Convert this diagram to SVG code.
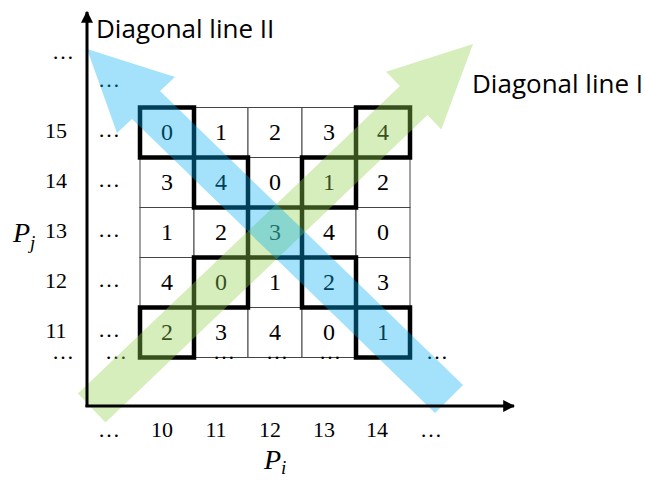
<svg xmlns="http://www.w3.org/2000/svg" width="645" height="480" viewBox="0 0 645 480">
<style>
.cell{fill:#fff;stroke:#444;stroke-width:1}
.num{font-family:"Liberation Serif",serif;font-size:22px;fill:#000;text-anchor:middle}
.cn{font-family:"Liberation Serif",serif;font-size:24px;fill:#000;text-anchor:middle}
.hl{fill:none;stroke:#000;stroke-width:4.5}
.lab{font-family:"Open Sans","Noto Sans",sans-serif;font-size:26px;fill:#000}
.ax{stroke:#000;stroke-width:3;fill:none}
.it{font-family:"Liberation Serif",serif;font-style:italic;fill:#000}
</style>
<defs>
<marker id="ah" viewBox="0 0 10 10" refX="9" refY="5" markerWidth="4" markerHeight="4" orient="auto" markerUnits="strokeWidth">
<path d="M0,0 L10,5 L0,10 z" fill="#000"/>
</marker>
</defs>
<rect width="645" height="480" fill="#fff"/>
<g id="grid">
<g id="row15">
<rect class="cell" x="140" y="107.5" width="54" height="50"/><rect class="cell" x="194" y="107.5" width="54" height="50"/><rect class="cell" x="248" y="107.5" width="54" height="50"/><rect class="cell" x="302" y="107.5" width="54" height="50"/><rect class="cell" x="356" y="107.5" width="54" height="50"/>
<text class="cn" x="167" y="140">0</text><text class="cn" x="221" y="140">1</text><text class="cn" x="275" y="140">2</text><text class="cn" x="329" y="140">3</text><text class="cn" x="383" y="140">4</text>
</g>
<g id="row14">
<rect class="cell" x="140" y="157.5" width="54" height="50"/><rect class="cell" x="194" y="157.5" width="54" height="50"/><rect class="cell" x="248" y="157.5" width="54" height="50"/><rect class="cell" x="302" y="157.5" width="54" height="50"/><rect class="cell" x="356" y="157.5" width="54" height="50"/>
<text class="cn" x="167" y="190">3</text><text class="cn" x="221" y="190">4</text><text class="cn" x="275" y="190">0</text><text class="cn" x="329" y="190">1</text><text class="cn" x="383" y="190">2</text>
</g>
<g id="row13">
<rect class="cell" x="140" y="207.5" width="54" height="50"/><rect class="cell" x="194" y="207.5" width="54" height="50"/><rect class="cell" x="248" y="207.5" width="54" height="50"/><rect class="cell" x="302" y="207.5" width="54" height="50"/><rect class="cell" x="356" y="207.5" width="54" height="50"/>
<text class="cn" x="167" y="240">1</text><text class="cn" x="221" y="240">2</text><text class="cn" x="275" y="240">3</text><text class="cn" x="329" y="240">4</text><text class="cn" x="383" y="240">0</text>
</g>
<g id="row12">
<rect class="cell" x="140" y="257.5" width="54" height="50"/><rect class="cell" x="194" y="257.5" width="54" height="50"/><rect class="cell" x="248" y="257.5" width="54" height="50"/><rect class="cell" x="302" y="257.5" width="54" height="50"/><rect class="cell" x="356" y="257.5" width="54" height="50"/>
<text class="cn" x="167" y="290">4</text><text class="cn" x="221" y="290">0</text><text class="cn" x="275" y="290">1</text><text class="cn" x="329" y="290">2</text><text class="cn" x="383" y="290">3</text>
</g>
<g id="row11">
<rect class="cell" x="140" y="307.5" width="54" height="50"/><rect class="cell" x="194" y="307.5" width="54" height="50"/><rect class="cell" x="248" y="307.5" width="54" height="50"/><rect class="cell" x="302" y="307.5" width="54" height="50"/><rect class="cell" x="356" y="307.5" width="54" height="50"/>
<text class="cn" x="167" y="340">2</text><text class="cn" x="221" y="340">3</text><text class="cn" x="275" y="340">4</text><text class="cn" x="329" y="340">0</text><text class="cn" x="383" y="340">1</text>
</g>
<g id="highlights">
<rect class="hl" x="140" y="107.5" width="54" height="50"/>
<rect class="hl" x="194" y="157.5" width="54" height="50"/>
<rect class="hl" x="248" y="207.5" width="54" height="50"/>
<rect class="hl" x="302" y="257.5" width="54" height="50"/>
<rect class="hl" x="356" y="307.5" width="54" height="50"/>
<rect class="hl" x="140" y="307.5" width="54" height="50"/>
<rect class="hl" x="194" y="257.5" width="54" height="50"/>
<rect class="hl" x="302" y="157.5" width="54" height="50"/>
<rect class="hl" x="356" y="107.5" width="54" height="50"/>
</g>
</g>
<g id="ellipses" class="num">
<text x="109" y="87">…</text><text x="109" y="137">…</text><text x="109" y="187">…</text><text x="109" y="237">…</text><text x="109" y="287">…</text><text x="109" y="337">…</text>
<text x="116" y="359">…</text><text x="224" y="359">…</text><text x="277" y="359">…</text><text x="330" y="359">…</text><text x="437" y="359">…</text>
<text x="63" y="59">…</text><text x="63" y="359">…</text>
</g>
<g id="ylabels" class="num">
<text x="56" y="138">15</text><text x="56" y="188">14</text><text x="56" y="238">13</text><text x="56" y="288">12</text><text x="56" y="338">11</text>
</g>
<g id="xlabels" class="num">
<text x="109" y="437">…</text><text x="162" y="437">10</text><text x="216" y="437">11</text><text x="270" y="437">12</text><text x="324" y="437">13</text><text x="377" y="437">14</text><text x="431" y="437">…</text>
</g>
<g id="connectors">
<polygon id="diag1" fill="#92d050" fill-opacity="0.38" points="77.9,393.5 399.9,86.1 386.1,71.7 473,44 441.3,129.5 427.5,115.1 105.5,422.5"/>
<polygon id="diag2" fill="#00b0f0" fill-opacity="0.36" points="463,385 160,91 175,77 87,49 117,133 132,119 435,413"/>
</g>
<g id="axes">
<line class="ax" x1="87" y1="407" x2="87" y2="12" marker-end="url(#ah)"/>
<line class="ax" x1="85.5" y1="406" x2="514" y2="406" marker-end="url(#ah)"/>
</g>
<g id="titles">
<text class="lab" x="96" y="38">Diagonal line II</text>
<text class="lab" x="472" y="93">Diagonal line I</text>
<text class="it" x="13" y="242" font-size="28">P<tspan font-size="19" dy="7">j</tspan></text>
<text class="it" x="264" y="469" font-size="28">P<tspan font-size="19" dy="5">i</tspan></text>
</g>
</svg>
